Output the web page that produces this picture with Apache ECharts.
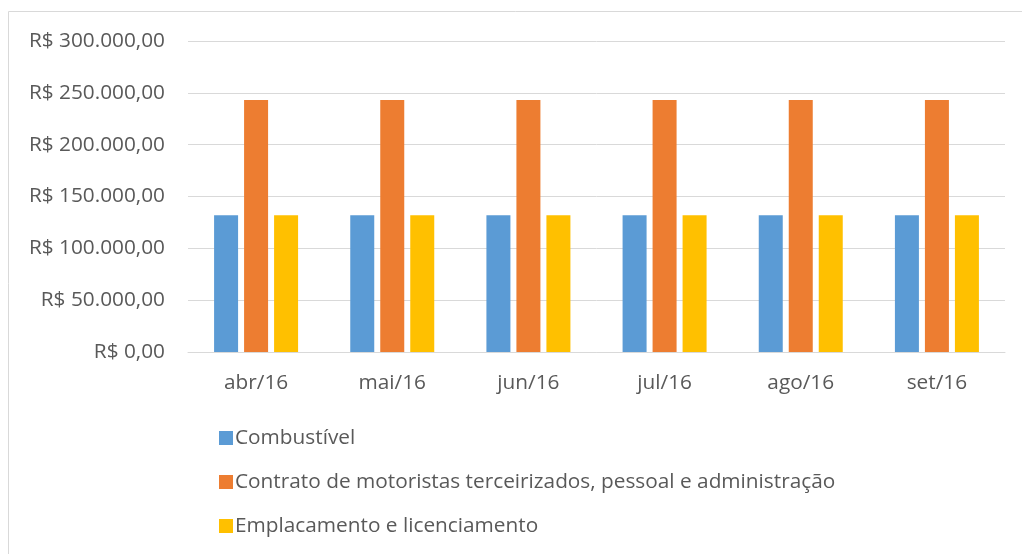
<!DOCTYPE html>
<html>
<head>
<meta charset="utf-8">
<script src="https://cdn.jsdelivr.net/npm/echarts@6/dist/echarts.min.js"></script>
<style>
  html, body { margin: 0; padding: 0; background: #fff; }
  #chart { width: 1022px; height: 554px; }
</style>
</head>
<body>
<div id="chart"></div>
<script>
const months = ['abr/16', 'mai/16', 'jun/16', 'jul/16', 'ago/16', 'set/16']
const seriesNames = [
  'Combustível',
  'Contrato de motoristas terceirizados, pessoal e administração',
  'Emplacamento e licenciamento'
]
const combustivel = [132000, 132000, 132000, 132000, 132000, 132000]
const contrato = [243000, 243000, 243000, 243000, 243000, 243000]
const emplacamento = [132000, 132000, 132000, 132000, 132000, 132000]
const colors = ['#5b9bd5', '#ed7d31', '#ffc000']

const font = '"Open Sans", "Liberation Sans", sans-serif'
const textColor = '#595959'
const fontSize = 20.8

const fmt = v => {
  const parts = Math.round(v).toString().replace(/\B(?=(\d{3})+(?!\d))/g, '.')
  return 'R$ ' + parts + ',00'
}

const chart = echarts.init(document.getElementById('chart'), null, { renderer: 'canvas' })

const barSeries = (name, data, i) => ({
  name: name,
  type: 'bar',
  data: data,
  barWidth: 24,
  barGap: '25%',
  itemStyle: { color: colors[i] },
  emphasis: { disabled: true }
})

chart.setOption({
  animation: false,
  textStyle: { fontFamily: font },
  graphic: [{
    type: 'rect',
    shape: { x: 8.5, y: 11.5, width: 1030, height: 560 },
    style: { fill: 'none', stroke: '#d9d9d9', lineWidth: 1 },
    silent: true
  }],
  grid: { left: 188, right: 17, top: 41, bottom: 202 },
  legend: {
    orient: 'vertical',
    left: 214,
    top: 422,
    itemGap: 22,
    itemWidth: 14,
    itemHeight: 14,
    icon: 'rect',
    textStyle: { color: textColor, fontSize: fontSize, lineHeight: 22, fontFamily: font, padding: [0, 0, 0, -3] },
    data: seriesNames
  },
  xAxis: {
    type: 'category',
    data: months,
    axisLine: { lineStyle: { color: '#d9d9d9', width: 1 } },
    axisTick: { show: false },
    axisLabel: { color: textColor, fontSize: fontSize, fontFamily: font, margin: 21 }
  },
  yAxis: {
    type: 'value',
    min: 0,
    max: 300000,
    interval: 50000,
    axisLine: { show: false },
    axisTick: { show: false },
    splitLine: { lineStyle: { color: '#d9d9d9', width: 1 } },
    axisLabel: { color: textColor, fontSize: fontSize, fontFamily: font, margin: 23, formatter: fmt }
  },
  series: [
    barSeries(seriesNames[0], combustivel, 0),
    barSeries(seriesNames[1], contrato, 1),
    barSeries(seriesNames[2], emplacamento, 2)
  ]
})
</script>
</body>
</html>
